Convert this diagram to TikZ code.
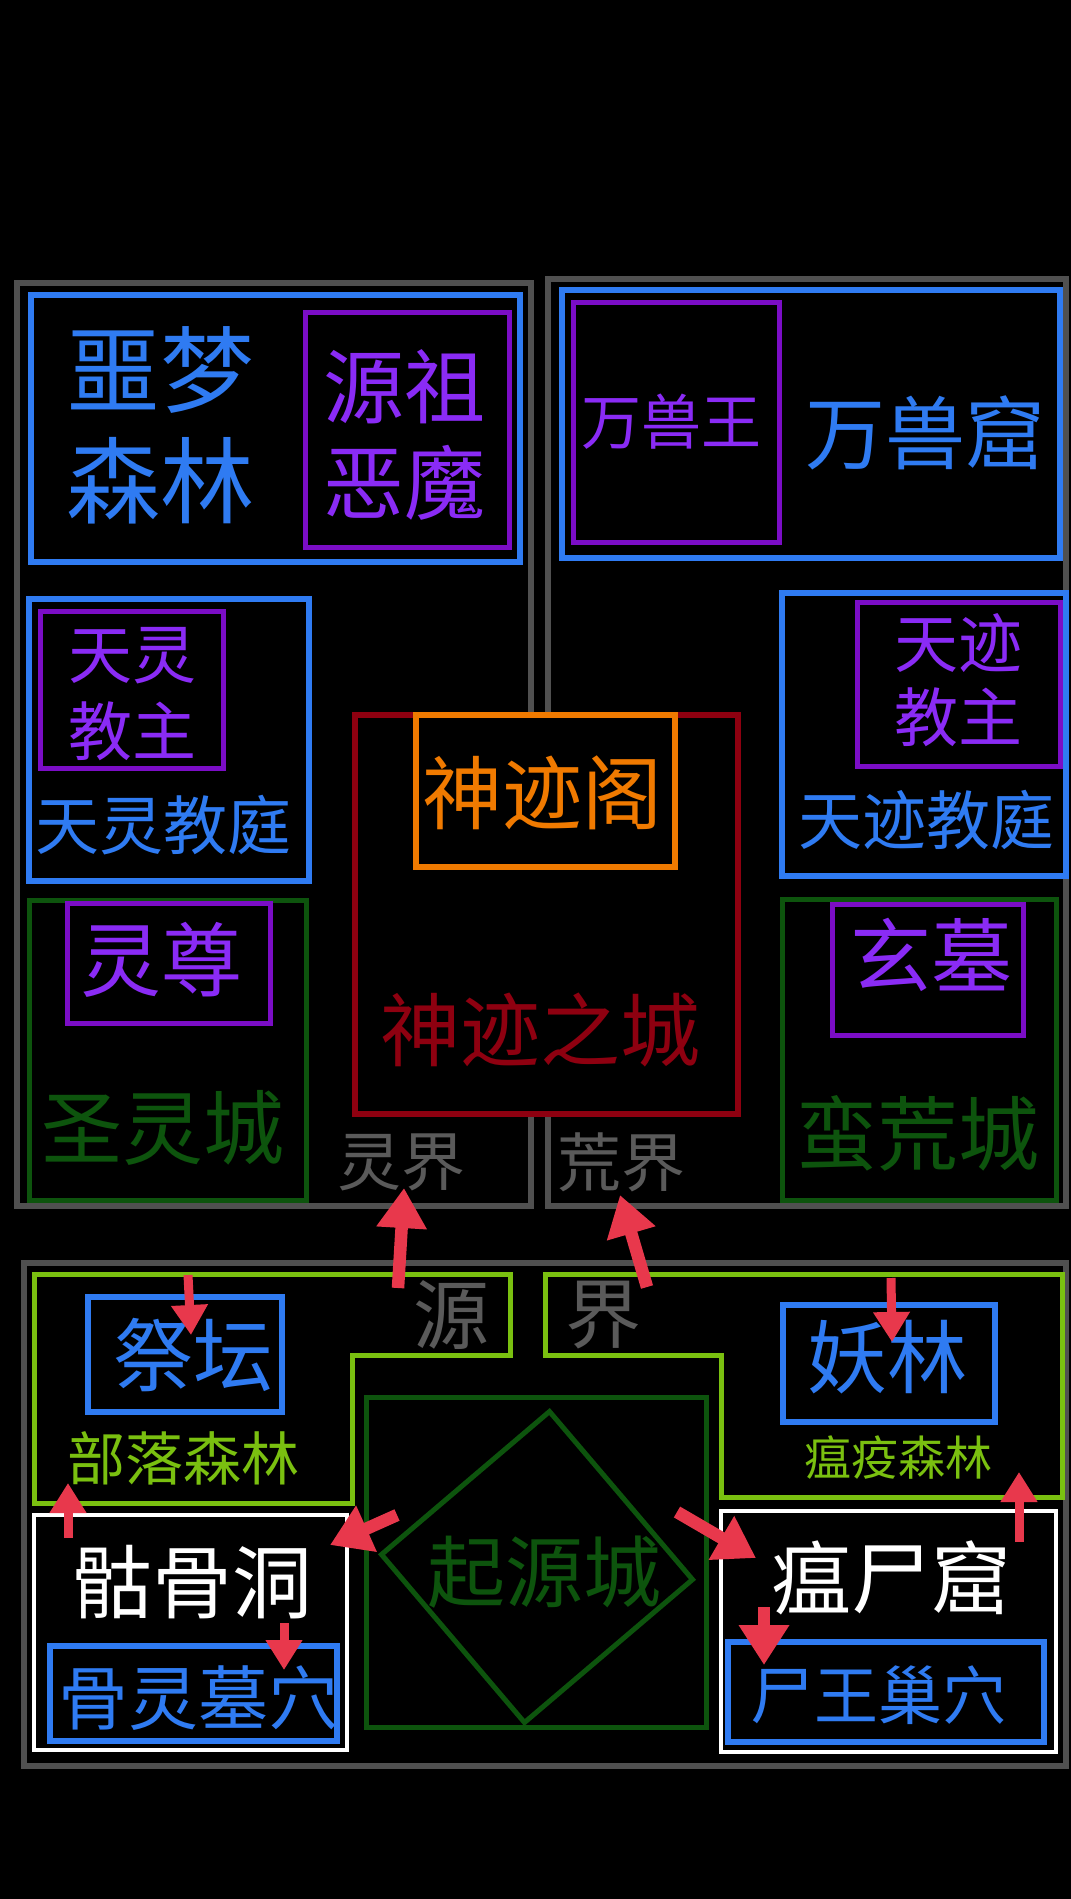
\documentclass[tikz,border=0pt]{standalone}
\usepackage{fontspec}
\setmainfont{Noto Sans CJK SC}
\usepackage{tikz}
\usetikzlibrary{arrows.meta,shapes.geometric}
\definecolor{mapGrey}{HTML}{505050}
\definecolor{mapGreyText}{HTML}{5A5A5A}
\definecolor{mapBlue}{HTML}{2F7BF2}
\definecolor{mapPurple}{HTML}{7B0DC6}
\definecolor{mapPurpleText}{HTML}{8A2BF5}
\definecolor{mapGreen}{HTML}{0D540D}
\definecolor{mapLime}{HTML}{7AC010}
\definecolor{mapCrimson}{HTML}{8E0010}
\definecolor{mapOrange}{HTML}{F07A00}
\definecolor{mapArrow}{HTML}{E8384C}
\tikzset{
  every node/.append style={inner sep=0pt,outer sep=0pt},
  zone/.style={rectangle,fill=black,line width=6pt},
  greyzone/.style={zone,draw=mapGrey},
  bluebox/.style={zone,draw=mapBlue,line width=6.5pt},
  purplebox/.style={zone,draw=mapPurple,line width=5pt},
  greenbox/.style={zone,draw=mapGreen,line width=5pt},
  whitebox/.style={zone,draw=white,line width=3.5pt},
  cityred/.style={zone,draw=mapCrimson,line width=5.5pt},
  cityorange/.style={zone,draw=mapOrange,line width=5.5pt},
  limeline/.style={draw=mapLime,fill=black,line width=5pt},
  cjk/.style 2 args={font=\fontsize{#1}{#2}\selectfont,align=center},
  bigarrow/.style={-{Triangle[length=40pt,width=48pt]},draw=mapArrow,line width=12.5pt},
  smallarrow/.style={-{Triangle[length=30pt,width=35pt]},draw=mapArrow,line width=9pt},
}

\begin{document}
\begin{tikzpicture}[x=1pt,y=-1pt]
  \fill[black] (0,0) rectangle (1071,1899);
  \useasboundingbox (0,0) rectangle (1071,1899);

  % upper realms
  \node[greyzone, minimum width=514pt, minimum height=923pt] (spiritRealm) at (274,744.5) {};
  \node[greyzone, minimum width=518pt, minimum height=927pt] (wildRealm) at (807,742.5) {};
  % lower realm
  \node[greyzone, minimum width=1042pt, minimum height=503pt] (originRealm) at (545,1514.5) {};

  \node[bluebox, minimum width=489pt, minimum height=267pt] (nightmare) at (275.5,428.5) {};
  \node[purplebox, minimum width=204pt, minimum height=235pt] (ancestor) at (407,429.5) {};
  \node[bluebox, minimum width=498pt, minimum height=268pt] (beastCave) at (811,424) {};
  \node[purplebox, minimum width=206pt, minimum height=240pt] (beastKing) at (676,422) {};

  \node[bluebox, minimum width=280pt, minimum height=282pt] (skyChurch) at (169,740) {};
  \node[purplebox, minimum width=183pt, minimum height=157pt] (skyPope) at (131.5,689.5) {};
  \node[greenbox, minimum width=277pt, minimum height=300pt] (holyCity) at (167.5,1050) {};
  \node[purplebox, minimum width=203pt, minimum height=120pt] (spiritLord) at (168.5,963) {};

  \node[cityred, minimum width=383pt, minimum height=399pt] (miracleCity) at (546.5,914.5) {};
  \node[cityorange, minimum width=259pt, minimum height=152pt] (miracleHall) at (545.5,791) {};

  \node[bluebox, minimum width=284pt, minimum height=283pt] (wonderChurch) at (924,734.5) {};
  \node[purplebox, minimum width=203pt, minimum height=164pt] (wonderPope) at (958.5,684) {};
  \node[greenbox, minimum width=274pt, minimum height=301pt] (wildCity) at (919,1049.5) {};
  \node[purplebox, minimum width=191pt, minimum height=131pt] (darkTomb) at (927.5,969.5) {};

  % forests of the origin realm
  \draw[limeline] (34,1274) -- (510,1274) -- (510,1355) -- (352,1355) -- (352,1503) -- (34,1503) -- cycle;
  \draw[limeline] (545,1274) -- (1062,1274) -- (1062,1497) -- (721,1497) -- (721,1355) -- (545,1355) -- cycle;
  \node[bluebox, minimum width=194pt, minimum height=115pt] (altar) at (185,1354.5) {};
  \node[bluebox, minimum width=212pt, minimum height=117pt] (demonWood) at (889,1363.5) {};

  \node[greenbox, minimum width=340pt, minimum height=330pt] (originCity) at (536,1562) {};
  \node[diamond, draw=mapGreen, line width=5pt, minimum width=312pt, minimum height=312pt,
        rotate=-4.6] (originGate) at (537,1567) {};

  \node[whitebox, minimum width=313pt, minimum height=235pt] (boneCave) at (190.5,1632.5) {};
  \node[bluebox, minimum width=287pt, minimum height=95pt] (boneTomb) at (193.5,1693.5) {};
  \node[whitebox, minimum width=335pt, minimum height=241pt] (plagueCave) at (888.5,1631.5) {};
  \node[bluebox, minimum width=316pt, minimum height=100pt] (corpseNest) at (886,1692) {};

  % labels
  \node[cjk={94}{111}, text=mapBlue] (nightmareText) at (160,425.5) {噩梦\\森林};
  \node[cjk={81}{96}, text=mapPurpleText] (ancestorText) at (404,435) {源祖\\恶魔};
  \node[cjk={60}{72}, text=mapPurpleText] (beastKingText) at (671,422) {万兽王};
  \node[cjk={80}{96}, text=mapBlue] (beastCaveText) at (925,433) {万兽窟};

  \node[cjk={64}{77}, text=mapPurpleText] (skyPopeText) at (132,694.5) {天灵\\教主};
  \node[cjk={64}{77}, text=mapBlue] (skyChurchText) at (163,825) {天灵教庭};
  \node[cjk={81}{96}, text=mapPurpleText] (spiritLordText) at (161,960) {灵尊};
  \node[cjk={81}{96}, text=mapGreen] (holyCityText) at (163,1128) {圣灵城};
  \node[cjk={64}{77}, text=mapGreyText] (spiritRealmText) at (401,1162) {灵界};

  \node[cjk={80}{96}, text=mapOrange] (miracleHallText) at (542,793) {神迹阁};
  \node[cjk={80}{96}, text=mapCrimson] (miracleCityText) at (540,1030) {神迹之城};

  \node[cjk={64}{74}, text=mapPurpleText] (wonderPopeText) at (958,680) {天迹\\教主};
  \node[cjk={64}{77}, text=mapBlue] (wonderChurchText) at (926,820) {天迹教庭};
  \node[cjk={81}{96}, text=mapPurpleText] (darkTombText) at (931,955) {玄墓};
  \node[cjk={81}{96}, text=mapGreen] (wildCityText) at (918,1133) {蛮荒城};
  \node[cjk={64}{77}, text=mapGreyText] (wildRealmText) at (621,1162) {荒界};

  \node[cjk={80}{96}, text=mapBlue] (altarText) at (193,1355) {祭坛};
  \node[cjk={58}{70}, text=mapLime] (tribeWoodText) at (183,1458) {部落森林};
  \node[cjk={76}{90}, text=mapGreyText] (originText) at (451,1315) {源};
  \node[cjk={76}{90}, text=mapGreyText] (realmText) at (603,1315) {界};
  \node[cjk={78}{94}, text=mapGreen] (originCityText) at (544,1572) {起源城};
  \node[cjk={80}{96}, text=mapBlue] (demonWoodText) at (887,1357) {妖林};
  \node[cjk={47}{56}, text=mapLime] (plagueWoodText) at (898,1458) {瘟疫森林};
  \node[cjk={80}{96}, text=white] (boneCaveText) at (192,1582) {骷骨洞};
  \node[cjk={70}{84}, text=mapBlue] (boneTombText) at (198,1698) {骨灵墓穴};
  \node[cjk={80}{96}, text=white] (plagueCaveText) at (891,1578) {瘟尸窟};
  \node[cjk={64}{77}, text=mapBlue] (corpseNestText) at (878,1695) {尸王巢穴};

  % arrows
  \coordinate (toSpiritTail) at (398,1288);
  \coordinate (toSpiritTip) at (404,1188);
  \coordinate (toWildTail) at (647,1287);
  \coordinate (toWildTip) at (620,1195);
  \coordinate (toBoneTail) at (397,1515);
  \coordinate (toBoneTip) at (330,1545);
  \coordinate (toPlagueTail) at (677,1512);
  \coordinate (toPlagueTip) at (756,1558);
  \coordinate (toNestTail) at (764,1607);
  \coordinate (toNestTip) at (764,1665);
  \coordinate (toAltarTail) at (188,1275);
  \coordinate (toAltarTip) at (191,1335);
  \coordinate (toTribeTail) at (68,1538);
  \coordinate (toTribeTip) at (68,1483);
  \coordinate (toTombTail) at (284,1623);
  \coordinate (toTombTip) at (284,1670);
  \coordinate (toDemonTail) at (891,1278);
  \coordinate (toDemonTip) at (892,1342);
  \coordinate (toPlagueWoodTail) at (1019,1542);
  \coordinate (toPlagueWoodTip) at (1019,1472);

  \draw[bigarrow] (toSpiritTail) -- (toSpiritTip);
  \draw[bigarrow] (toWildTail) -- (toWildTip);
  \draw[bigarrow] (toBoneTail) -- (toBoneTip);
  \draw[bigarrow] (toPlagueTail) -- (toPlagueTip);
  \draw[bigarrow] (toNestTail) -- (toNestTip);
  \draw[smallarrow] (toAltarTail) -- (toAltarTip);
  \draw[smallarrow] (toTribeTail) -- (toTribeTip);
  \draw[smallarrow] (toTombTail) -- (toTombTip);
  \draw[smallarrow] (toDemonTail) -- (toDemonTip);
  \draw[smallarrow] (toPlagueWoodTail) -- (toPlagueWoodTip);
\end{tikzpicture}
\end{document}
